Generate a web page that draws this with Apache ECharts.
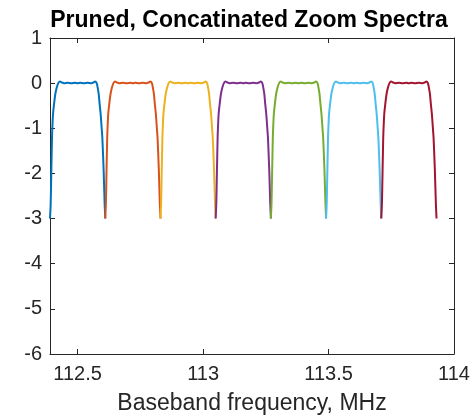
<!DOCTYPE html>
<html>
<head>
<meta charset="utf-8">
<script src="https://cdn.jsdelivr.net/npm/echarts@6/dist/echarts.min.js"></script>
<style>html,body{margin:0;padding:0;background:#fff}#c{width:473px;height:417px}</style>
</head>
<body>
<div id="c"></div>
<script>
const titleText = 'Pruned, Concatinated Zoom Spectra';
const xLabel = 'Baseband frequency, MHz';
const xTicks = [112.5, 113, 113.5, 114];
const bandStarts = [112.39, 112.61, 112.83, 113.05, 113.27, 113.49, 113.71];
const bandColors = ['#0072BD', '#D95319', '#EDB120', '#7E2F8E', '#77AC30', '#4DBEEE', '#A2142F'];
// shape of each pruned band: frequency offset (MHz) from band start, level
const profileOffsets = [0, 0.0027, 0.0053, 0.008, 0.0093, 0.012, 0.016, 0.0212, 0.0266, 0.033, 0.0398,
  0.047, 0.056, 0.07, 0.085, 0.1, 0.11, 0.12, 0.135, 0.15, 0.164, 0.173, 0.1795,
  0.186, 0.19, 0.194, 0.1979, 0.2019, 0.2059, 0.2085, 0.2138, 0.2178, 0.2204];
const profileLevels = [-3, -2.68, -1.94, -1.2, -1.0, -0.69, -0.47, -0.24, -0.1, 0, 0.035,
  0.015, 0.0, 0.01, -0.005, 0.008, -0.003, 0.008, -0.005, 0.01, 0.0, 0.015, 0.035,
  0, -0.1, -0.24, -0.47, -0.69, -1.0, -1.2, -1.94, -2.68, -3];

const font = 'Liberation Sans, Arial, Helvetica, sans-serif';
const axisCol = '#262626';
const chart = echarts.init(document.getElementById('c'), null, {renderer: 'canvas'});

const series = bandStarts.map((s, b) => ({
  type: 'line',
  xAxisIndex: 0, yAxisIndex: 0,
  showSymbol: false,
  smooth: 0.25,
  lineStyle: {color: bandColors[b], width: 2},
  itemStyle: {color: bandColors[b]},
  data: profileOffsets.map((o, i) => [s + o, profileLevels[i]]),
  z: 3
}));

const baseX = {
  type: 'value', min: 112.39, max: 114,
  splitLine: {show: false},
  axisLine: {show: true, onZero: false, lineStyle: {color: axisCol, width: 1}},
  axisTick: {show: true, inside: true, length: 5, customValues: xTicks, lineStyle: {color: axisCol}},
};
const baseY = {
  type: 'value', min: -6, max: 1, interval: 1,
  splitLine: {show: false},
  axisLine: {show: true, onZero: false, lineStyle: {color: axisCol, width: 1}},
  axisTick: {show: true, inside: true, length: 5, lineStyle: {color: axisCol}},
};

chart.setOption({
  animation: false,
  backgroundColor: '#fff',
  title: {
    text: titleText, left: 244, top: 4, textAlign: 'center',
    textStyle: {fontFamily: font, fontSize: 23, fontWeight: 'bold', color: '#000'}
  },
  grid: {left: 50, right: 19, top: 38, bottom: 63, containLabel: false, outerBoundsMode: 'none'},
  xAxis: [
    Object.assign({}, baseX, {
      position: 'bottom',
      name: xLabel, nameLocation: 'middle', nameGap: 38,
      nameTextStyle: {fontFamily: font, fontSize: 23, color: axisCol},
      axisLabel: {show: true, customValues: xTicks, margin: 10, fontFamily: font, fontSize: 20, color: axisCol,
        formatter: v => String(v)}
    }),
    Object.assign({}, baseX, {position: 'top', axisLabel: {show: false}})
  ],
  yAxis: [
    Object.assign({}, baseY, {
      position: 'left',
      axisLabel: {show: true, margin: 8, fontFamily: font, fontSize: 20, color: axisCol}
    }),
    Object.assign({}, baseY, {position: 'right', axisLabel: {show: false}})
  ],
  series: series
});
</script>
</body>
</html>
